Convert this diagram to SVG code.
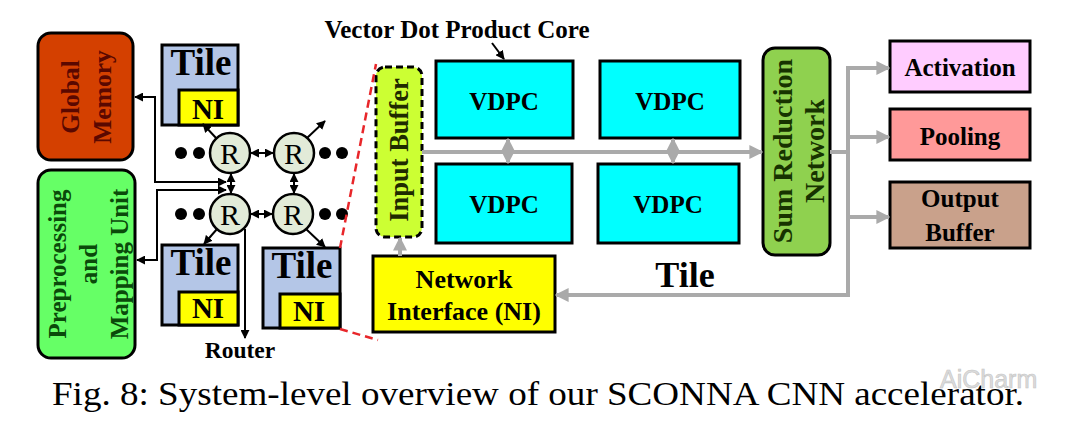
<svg xmlns="http://www.w3.org/2000/svg" width="1080" height="424" viewBox="0 0 1080 424">
<defs>
<marker id="ab" viewBox="0 0 10 10" refX="9" refY="5" markerWidth="4.5" markerHeight="4.5" orient="auto-start-reverse"><path d="M0,0 L10,5 L0,10 Z" fill="#000"/></marker>
<marker id="ag" viewBox="0 0 10 10" refX="9" refY="5" markerWidth="3.5" markerHeight="3.5" orient="auto-start-reverse"><path d="M0,0 L10,5 L0,10 Z" fill="#aaaaaa"/></marker>
</defs>
<style>
.b{font-family:"Liberation Serif","Times New Roman",serif;font-weight:bold;text-anchor:middle;fill:#000}
.box{stroke:#000;stroke-width:3}
.blk{fill:none;stroke:#000;stroke-width:2}
.gry{fill:none;stroke:#aaaaaa;stroke-width:4}
.red{fill:none;stroke:#e8262a;stroke-width:2.5;stroke-dasharray:8 5}
.tile{fill:#b4c6e7;stroke:#000;stroke-width:3}
.ni{fill:#ffff00;stroke:#000;stroke-width:3}
.rt{fill:#e2ebd8;stroke:#000;stroke-width:2.5}
.dot{fill:#000}
</style>
<rect width="1080" height="424" fill="#fff"/>

<g id="global-memory">
<rect class="box" x="38" y="33" width="95" height="127" rx="13" fill="#d44000"/>
<g transform="translate(85.5,97) rotate(-90)"><text class="b" font-size="25.5" y="-7" style="fill:#5a0800">Global</text><text class="b" font-size="25.5" y="25" style="fill:#5a0800">Memory</text></g>
</g>
<g id="preprocessing">
<rect class="box" x="38" y="170" width="97" height="188" rx="13" fill="#66ff66"/>
<g transform="translate(86.5,264) rotate(-90)"><text class="b" font-size="25" y="-21" style="fill:#0a4a0a">Preprocessing</text><text class="b" font-size="25" y="10" style="fill:#0a4a0a">and</text><text class="b" font-size="25" y="41" style="fill:#0a4a0a">Mapping Unit</text></g>
</g>

<g id="tile-top">
<rect class="tile" x="162" y="45" width="76" height="80"/>
<rect class="ni" x="179" y="90" width="59" height="35"/>
<text class="b" font-size="37" x="201" y="75">Tile</text>
<text class="b" font-size="29" x="208" y="119">NI</text>
</g>
<g id="tile-bottom-left">
<rect class="tile" x="162" y="245" width="76" height="80"/>
<rect class="ni" x="179" y="292" width="59" height="33"/>
<text class="b" font-size="37" x="201" y="275">Tile</text>
<text class="b" font-size="29" x="208" y="318">NI</text>
</g>
<g id="tile-bottom-right">
<rect class="tile" x="263" y="248" width="77" height="80"/>
<rect class="ni" x="280" y="294" width="60" height="34"/>
<text class="b" font-size="37" x="302" y="278">Tile</text>
<text class="b" font-size="29" x="309" y="321">NI</text>
</g>

<g id="routers">
<circle class="rt" cx="230" cy="153" r="20"/><text x="230" y="164" font-family="Liberation Serif,serif" font-size="30" text-anchor="middle">R</text>
<circle class="rt" cx="294" cy="153" r="20"/><text x="294" y="164" font-family="Liberation Serif,serif" font-size="30" text-anchor="middle">R</text>
<circle class="rt" cx="230" cy="214" r="20"/><text x="230" y="225" font-family="Liberation Serif,serif" font-size="30" text-anchor="middle">R</text>
<circle class="rt" cx="293" cy="214" r="20"/><text x="293" y="225" font-family="Liberation Serif,serif" font-size="30" text-anchor="middle">R</text>
<circle class="dot" cx="181" cy="153" r="6"/><circle class="dot" cx="199" cy="153" r="6"/>
<circle class="dot" cx="325" cy="153" r="6"/><circle class="dot" cx="342" cy="153" r="6"/>
<circle class="dot" cx="181" cy="214" r="6"/><circle class="dot" cx="199" cy="214" r="6"/>
<circle class="dot" cx="325" cy="214" r="6"/><circle class="dot" cx="342" cy="214" r="6"/>
<text class="b" font-size="23.5" x="240" y="358">Router</text>
</g>

<g id="input-buffer">
<rect x="376" y="67" width="46" height="170" rx="9" fill="#ccff33" stroke="#000" stroke-width="3" stroke-dasharray="7 4"/>
<g transform="translate(399,150) rotate(-90)"><text class="b" font-size="26.5" y="9" style="fill:#1f2a00">Input Buffer</text></g>
</g>
<g id="vdpc-1"><rect class="box" x="436" y="61" width="137" height="77" fill="#00ffff"/><text class="b" font-size="25" x="504" y="110">VDPC</text></g>
<g id="vdpc-2"><rect class="box" x="600" y="61" width="140" height="77" fill="#00ffff"/><text class="b" font-size="25" x="670" y="110">VDPC</text></g>
<g id="vdpc-3"><rect class="box" x="436" y="164" width="136" height="79" fill="#00ffff"/><text class="b" font-size="25" x="504" y="213">VDPC</text></g>
<g id="vdpc-4"><rect class="box" x="598" y="164" width="141" height="79" fill="#00ffff"/><text class="b" font-size="25" x="668" y="213">VDPC</text></g>
<g id="vdpc-label"><text class="b" font-size="25" x="457" y="38">Vector Dot Product Core</text></g>
<g id="network-interface">
<rect class="box" x="373" y="256" width="182" height="76" fill="#ffff00"/>
<text class="b" font-size="26" x="464" y="288">Network</text>
<text class="b" font-size="26" x="464" y="320">Interface (NI)</text>
</g>
<g id="sum-reduction">
<rect class="box" x="763" y="48" width="67" height="207" rx="12" fill="#8fd14f"/>
<g transform="translate(796.5,151) rotate(-90)"><text class="b" font-size="28" y="-5" style="fill:#173300">Sum Reduction</text><text class="b" font-size="28" y="27" style="fill:#173300">Network</text></g>
</g>
<g id="activation"><rect class="box" x="890" y="41" width="140" height="51" fill="#ffccff"/><text class="b" font-size="25" x="960" y="76">Activation</text></g>
<g id="pooling"><rect class="box" x="890" y="109" width="140" height="51" fill="#ff9999"/><text class="b" font-size="25" x="960" y="145">Pooling</text></g>
<g id="output-buffer"><rect class="box" x="890" y="182" width="140" height="66" fill="#c9a18b"/><text class="b" font-size="25" x="960" y="207">Output</text><text class="b" font-size="25" x="960" y="241">Buffer</text></g>
<g id="tile-label"><text class="b" font-size="36" x="685" y="287">Tile</text></g>

<g id="connectors">
<path class="blk" d="M135,97 H155 V182 H226" marker-start="url(#ab)" marker-end="url(#ab)"/>
<path class="blk" d="M137,260 H157 V190 H226" marker-start="url(#ab)" marker-end="url(#ab)"/>
<path class="blk" d="M231,174 V193" marker-start="url(#ab)" marker-end="url(#ab)"/>
<path class="blk" d="M294,174 V193" marker-start="url(#ab)" marker-end="url(#ab)"/>
<path class="blk" d="M251,153 H273" marker-start="url(#ab)" marker-end="url(#ab)"/>
<path class="blk" d="M251,214 H272" marker-start="url(#ab)" marker-end="url(#ab)"/>
<path class="blk" d="M217,139 L203,124" marker-end="url(#ab)"/>
<path class="blk" d="M307,138 L325,121" marker-end="url(#ab)"/>
<path class="blk" d="M217,229 L204,244" marker-end="url(#ab)"/>
<path class="blk" d="M306,229 L325,247" marker-end="url(#ab)"/>
<path class="blk" d="M245,229 V338" marker-end="url(#ab)"/>
<path class="blk" d="M492,43 L504,59" marker-end="url(#ab)"/>
<path class="red" d="M340,248 L376,64"/>
<path class="red" d="M340,329 L378,340"/>
<path class="gry" d="M422,152 H762" marker-end="url(#ag)"/>
<path class="gry" d="M508,139 V163" marker-start="url(#ag)" marker-end="url(#ag)"/>
<path class="gry" d="M673,139 V163" marker-start="url(#ag)" marker-end="url(#ag)"/>
<path class="gry" d="M400,256 V238" marker-end="url(#ag)"/>
<path class="gry" d="M830,152 H848"/>
<path class="gry" d="M848,68 H889" marker-end="url(#ag)"/>
<path class="gry" d="M848,137 H889" marker-end="url(#ag)"/>
<path class="gry" d="M848,217 H889" marker-end="url(#ag)"/>
<path class="gry" d="M848,66 V295 H556" marker-end="url(#ag)"/>
</g>

<text x="52" y="405" font-family="Liberation Serif,'Times New Roman',serif" font-size="33" textLength="972" lengthAdjust="spacingAndGlyphs">Fig. 8: System-level overview of our SCONNA CNN accelerator.</text>
<text x="940" y="388" font-family="'Liberation Sans',Arial,sans-serif" font-size="25" fill="#dcdcdc" stroke="#c4c4c4" stroke-width="0.6">AiCharm</text>
</svg>
